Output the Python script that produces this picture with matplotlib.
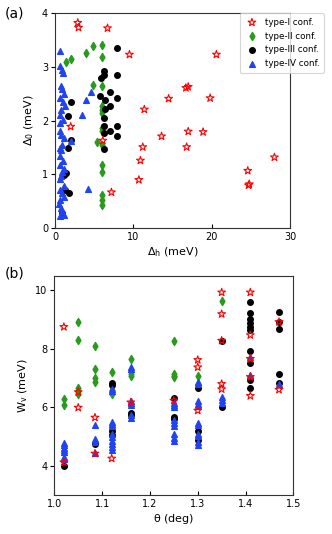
import numpy as np
import matplotlib
matplotlib.use("Agg")
import matplotlib.pyplot as plt

# ---- panel (a): Delta_0 vs Delta_h ----
t1_dh = [2.9, 3.0, 6.7, 9.5, 20.6, 16.7, 17.0, 14.5, 19.8, 11.4, 2.0, 13.6,
         17.0, 18.9, 11.2, 16.8, 10.9, 10.7, 24.6, 24.7, 24.8, 28.0, 7.2, 6.1]
t1_d0 = [3.82, 3.73, 3.72, 3.23, 3.23, 2.61, 2.63, 2.41, 2.42, 2.21, 1.89, 1.71,
         1.80, 1.79, 1.51, 1.51, 1.26, 0.90, 1.07, 0.80, 0.82, 1.32, 0.67, 1.63]

t2_dh = [1.4, 2.1, 4.0, 4.9, 6.0, 6.0, 4.8, 6.0, 6.0, 6.0, 6.0, 6.0, 6.0,
         5.4, 6.0, 6.0, 6.0, 6.0, 6.0, 6.0]
t2_d0 = [3.10, 3.15, 3.26, 3.39, 3.41, 3.19, 2.67, 2.65, 2.27, 2.20, 2.15, 1.87,
         1.80, 1.60, 1.54, 1.18, 1.04, 0.62, 0.53, 0.43]

t3_dh = [7.9, 6.3, 6.2, 5.9, 7.9, 2.0, 1.6, 5.8, 7.0, 7.9, 6.4, 7.0, 6.4, 6.3,
         6.2, 7.9, 7.0, 6.2, 7.9, 6.3, 1.6, 2.0, 1.4, 1.15, 1.3, 1.8, 0.85]
t3_d0 = [3.35, 2.92, 2.84, 2.79, 2.85, 2.35, 2.08, 2.46, 2.53, 2.42, 2.38, 2.28,
         2.21, 2.05, 1.90, 1.90, 1.80, 1.77, 1.71, 1.48, 1.49, 1.64, 1.03, 0.99,
         0.71, 0.65, 0.29]

t4_dh = [0.7, 0.6, 0.9, 1.0, 0.8, 0.9, 1.1, 0.7, 1.0, 1.3, 0.8, 0.6, 1.0, 0.7,
         0.6, 0.8, 1.1, 0.9, 0.6, 0.8, 0.7, 1.0, 0.6, 1.2, 0.9, 0.8, 0.7, 1.1,
         0.6, 0.9, 1.2, 0.7, 0.5, 0.8, 0.9, 1.2, 0.7,
         4.25, 3.5, 3.9, 4.6, 2.0]
t4_d0 = [3.30, 3.02, 2.95, 2.88, 2.65, 2.58, 2.50, 2.42, 2.35, 2.28, 2.20, 2.10,
         2.02, 1.95, 1.80, 1.74, 1.68, 1.55, 1.50, 1.45, 1.35, 1.25, 1.18, 1.10,
         1.05, 0.98, 0.92, 0.78, 0.72, 0.65, 0.58, 0.52, 0.45, 0.38, 0.32, 0.25,
         0.22,
         0.73, 2.11, 2.38, 2.54, 1.62]

# ---- panel (b): W_v vs twist angle ----
t1_th = [1.02, 1.02, 1.05, 1.05, 1.085, 1.085, 1.12, 1.16, 1.25,
         1.30, 1.30, 1.30, 1.35, 1.35, 1.35, 1.35, 1.35,
         1.41, 1.41, 1.41, 1.41, 1.41, 1.47, 1.47]
t1_w = [8.75, 4.12, 6.52, 5.99, 5.65, 4.42, 4.25, 6.17, 6.23,
        7.62, 7.37, 5.89, 9.93, 9.19, 8.28, 6.80, 6.62,
        9.93, 8.47, 7.66, 7.04, 6.39, 8.92, 6.60]

t2_th = [1.02, 1.02, 1.05, 1.05, 1.05, 1.05, 1.05, 1.085, 1.085, 1.085, 1.085,
         1.12, 1.12, 1.12, 1.16, 1.16, 1.16, 1.16, 1.25, 1.25, 1.25, 1.25,
         1.30, 1.30, 1.35]
t2_w = [6.27, 6.08, 8.92, 8.31, 6.65, 6.55, 6.45, 8.08, 7.30, 7.00, 6.85,
        7.20, 6.58, 6.45, 7.65, 7.22, 7.15, 7.08, 8.28, 7.15, 7.08, 7.02,
        7.08, 6.80, 9.62]

t3_th = [1.02, 1.085, 1.12, 1.12, 1.12, 1.12, 1.16, 1.16, 1.25, 1.25, 1.25,
         1.30, 1.30, 1.30, 1.35, 1.35,
         1.41, 1.41, 1.41, 1.41, 1.41, 1.41, 1.41, 1.41, 1.41, 1.41,
         1.47, 1.47, 1.47, 1.47, 1.47]
t3_w = [3.99, 4.74, 6.82, 6.75, 5.20, 5.05, 5.80, 5.75, 6.32, 5.68, 5.60,
        6.67, 5.20, 4.88, 8.25, 6.00,
        9.59, 9.22, 9.02, 8.88, 8.75, 8.65, 7.94, 7.52, 6.94, 6.67,
        9.25, 8.92, 8.68, 7.13, 6.82]

t4_th = [1.02] * 7 + [1.085] * 4 + [1.12] * 11 + [1.16] * 7 + [1.25] * 9 \
    + [1.30] * 11 + [1.35] * 3 + [1.41] * 2 + [1.47]
t4_w = [4.78, 4.70, 4.62, 4.55, 4.48, 4.30, 4.22,
        5.38, 4.90, 4.82, 4.45,
        6.62, 6.55, 5.50, 5.42, 5.35, 5.10, 4.98, 4.85, 4.75, 4.65, 4.55,
        7.38, 7.30, 6.22, 6.15, 6.08, 5.72, 5.65,
        6.15, 6.08, 6.00, 5.55, 5.45, 5.35, 5.08, 4.95, 4.85,
        6.85, 6.78, 6.20, 6.12, 6.05, 5.45, 5.38, 5.10, 5.02, 4.80, 4.70,
        6.35, 6.25, 6.15,
        7.72, 7.10,
        6.80]

labels = ['type-I conf.', 'type-II conf.', 'type-III conf.', 'type-IV conf.']
green = '#2a9a1e'
blue = '#2244ee'

fig = plt.figure(figsize=(3.32, 5.34), dpi=100)
ax1 = fig.add_axes([0.1657, 0.5725, 0.708, 0.403])
ax2 = fig.add_axes([0.1636, 0.073, 0.72, 0.4107])


def draw(ax, d1, d2, d3, d4):
    h1 = ax.scatter(d1[0], d1[1], marker='*', s=34, facecolors='none',
                    edgecolors='red', linewidths=0.8, zorder=5)
    h2 = ax.scatter(d2[0], d2[1], marker='d', s=17, color=green, zorder=3)
    h3 = ax.scatter(d3[0], d3[1], marker='o', s=16, color='black', zorder=3)
    h4 = ax.scatter(d4[0], d4[1], marker='^', s=17, color=blue, zorder=4)
    ax.tick_params(axis='x', direction='in', length=3, labelsize=7, pad=3)
    ax.tick_params(axis='y', direction='out', length=3, labelsize=7, pad=2)
    return [h1, h2, h3, h4]


hs = draw(ax1, (t1_dh, t1_d0), (t2_dh, t2_d0), (t3_dh, t3_d0), (t4_dh, t4_d0))
ax1.set_xlim(0, 30)
ax1.set_ylim(0, 4)
ax1.set_xticks([0, 10, 20, 30])
ax1.set_yticks([0, 1, 2, 3, 4])
ax1.set_xlabel(r'$\mathrm{\Delta_h}$ (meV)', fontsize=8, labelpad=2)
ax1.set_ylabel(r'$\mathrm{\Delta_0}$ (meV)', fontsize=8, labelpad=4)

leg = fig.legend(hs, labels, loc='upper right', bbox_to_anchor=(0.976, 0.975),
                 fontsize=6.3, frameon=True, borderaxespad=0, handletextpad=0.6,
                 labelspacing=0.55, borderpad=0.5, handlelength=1.8)
leg.get_frame().set_edgecolor('#cccccc')
leg.get_frame().set_linewidth(0.8)

draw(ax2, (t1_th, t1_w), (t2_th, t2_w), (t3_th, t3_w), (t4_th, t4_w))
ax2.set_xlim(1.0, 1.5)
ax2.set_ylim(3, 10.5)
ax2.set_xticks([1.0, 1.1, 1.2, 1.3, 1.4, 1.5])
ax2.set_yticks([4, 6, 8, 10])
ax2.set_xlabel(r'$\mathrm{\theta}$ (deg)', fontsize=8, labelpad=2)
ax2.set_ylabel(r'$\mathrm{W_v}$ (meV)', fontsize=8, labelpad=4)

for ax in (ax1, ax2):
    for sp in ax.spines.values():
        sp.set_linewidth(0.8)
        sp.set_color('#333333')

fig.text(0.015, 0.974, '(a)', fontsize=10, va='center', ha='left')
fig.text(0.015, 0.487, '(b)', fontsize=10, va='center', ha='left')

fig.savefig('out.png', dpi=100)
